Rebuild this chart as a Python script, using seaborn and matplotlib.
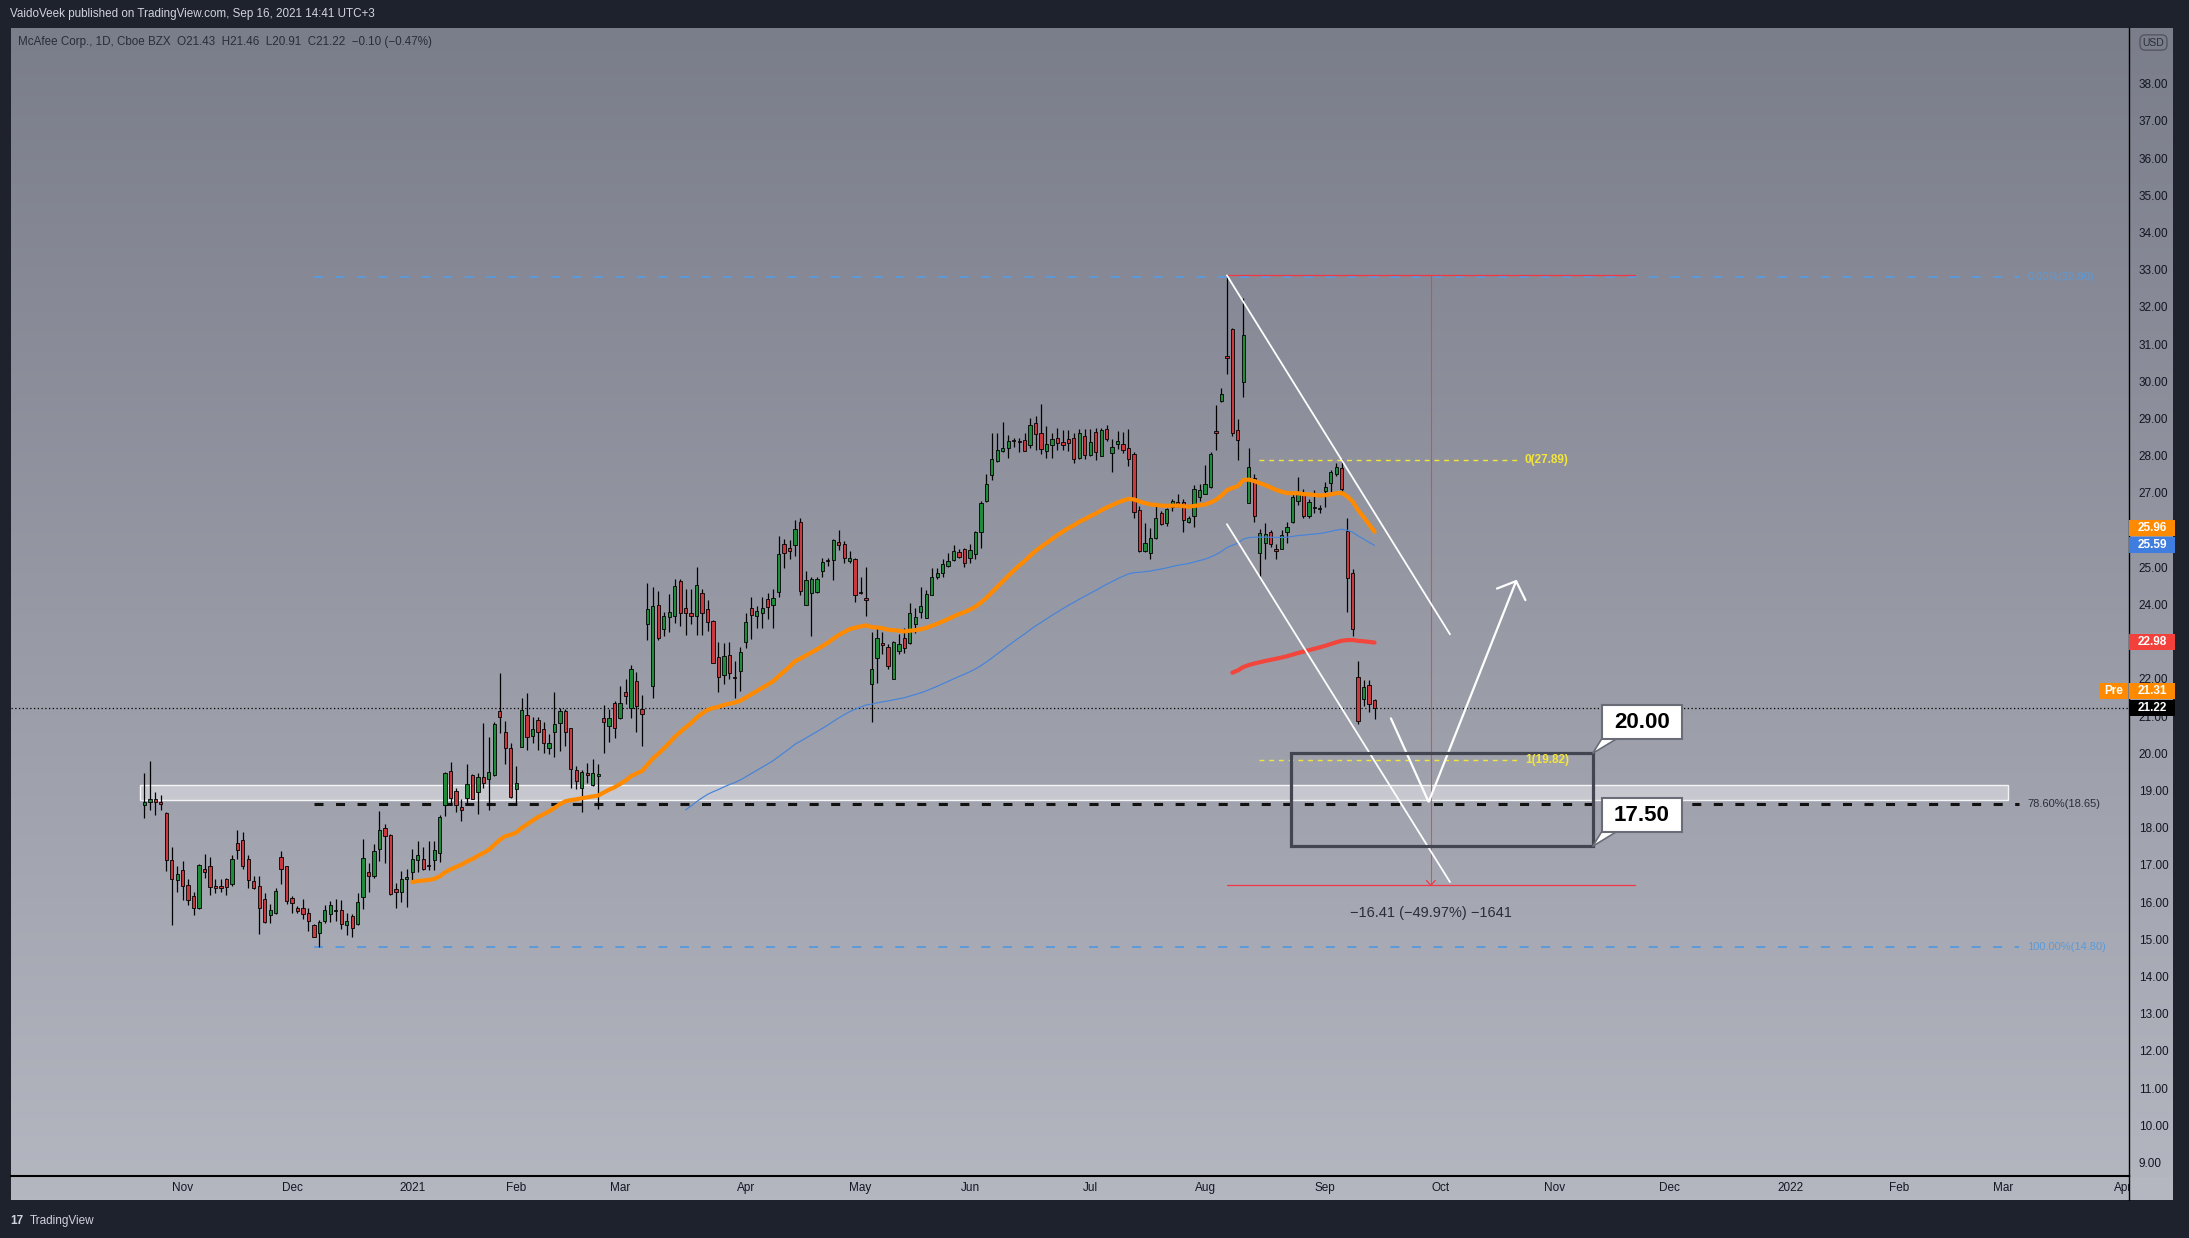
import numpy as np
import pandas as pd
import matplotlib
matplotlib.use("Agg")
import matplotlib.pyplot as plt
import seaborn as sns
from matplotlib.patches import Rectangle, Polygon
from matplotlib.transforms import blended_transform_factory

# daily candles, McAfee (MCFE), 2020-10-22 .. 2021-09-16
opens = [18.60, 18.68, 18.78, 18.67, 18.39, 17.14, 16.60, 16.86, 16.45, 16.16,
         15.83, 16.88, 16.98, 16.43, 16.40, 16.62, 16.50, 17.60, 17.66, 17.15,
         16.58, 16.43, 16.08, 15.66, 15.72, 17.20, 16.97, 16.10, 15.83, 15.83,
         15.72, 15.38, 15.16, 15.50, 15.67, 15.77, 15.80, 15.39, 15.63, 15.41,
         16.15, 16.82, 16.70, 17.44, 17.98, 17.81, 16.34, 16.26, 16.61, 16.82,
         17.14, 17.17, 16.98, 17.14, 17.33, 18.62, 19.53, 19.00, 18.56, 18.81,
         19.41, 18.95, 19.37, 19.30, 19.42, 21.13, 20.56, 20.14, 19.03, 20.16,
         21.03, 20.47, 20.89, 20.65, 20.13, 20.58, 20.81, 21.13, 20.69, 19.55,
         19.07, 19.46, 19.16, 19.40, 20.94, 20.74, 21.34, 20.96, 21.66, 21.23,
         21.95, 21.19, 23.49, 21.80, 24.00, 23.34, 23.67, 23.70, 24.64, 23.92,
         23.76, 23.68, 24.32, 23.88, 23.56, 22.58, 22.10, 22.65, 22.03, 22.22,
         23.00, 23.91, 23.70, 23.76, 24.16, 23.99, 24.34, 25.62, 25.53, 25.60,
         26.23, 24.00, 24.32, 24.35, 24.89, 25.20, 25.19, 25.67, 25.64, 25.16,
         25.22, 24.34, 24.17, 21.87, 22.56, 22.96, 22.85, 22.01, 22.75, 23.09,
         22.96, 23.49, 23.79, 23.65, 24.26, 24.73, 24.84, 25.04, 25.20, 25.40,
         25.49, 25.24, 25.35, 25.94, 26.78, 27.47, 27.86, 28.13, 28.20, 28.40,
         28.39, 28.43, 28.29, 28.89, 28.60, 28.13, 28.29, 28.49, 28.38, 28.46,
         28.49, 27.94, 28.53, 28.02, 28.63, 27.99, 28.71, 28.08, 28.31, 28.32,
         28.20, 28.06, 26.53, 25.44, 25.38, 25.78, 26.45, 26.20, 26.63, 26.76,
         26.77, 26.22, 26.38, 26.89, 26.98, 27.17, 28.67, 29.47, 30.68, 31.42,
         28.69, 29.99, 26.74, 27.39, 25.39, 25.66, 25.96, 25.50, 25.50, 25.95,
         26.22, 26.78, 26.98, 26.38, 26.59, 26.56, 27.04, 27.28, 27.50, 27.68,
         25.98, 24.84, 22.06, 21.47, 21.83, 21.43]
highs = [19.48, 19.79, 18.97, 18.89, 18.43, 17.49, 16.97, 17.10, 16.62, 16.26,
         17.02, 17.29, 17.21, 16.63, 16.63, 16.66, 17.26, 17.95, 17.89, 17.26,
         16.71, 16.69, 16.24, 15.96, 16.39, 17.38, 16.97, 16.17, 15.90, 16.08,
         15.83, 15.40, 15.52, 15.92, 16.03, 16.08, 16.06, 15.70, 15.67, 16.24,
         17.69, 17.06, 17.57, 18.45, 18.09, 17.83, 16.51, 16.84, 16.88, 17.43,
         17.63, 17.48, 17.65, 17.63, 18.35, 19.50, 19.78, 19.08, 18.78, 19.72,
         19.44, 19.48, 20.81, 20.45, 20.83, 22.15, 20.88, 20.29, 19.65, 21.50,
         21.63, 20.98, 20.98, 20.84, 20.51, 21.64, 21.23, 21.20, 20.69, 19.66,
         19.55, 19.75, 19.84, 19.70, 21.29, 21.18, 21.41, 21.81, 21.99, 22.37,
         22.19, 21.56, 24.59, 24.46, 24.37, 23.79, 24.28, 24.70, 24.68, 24.41,
         24.41, 25.00, 24.41, 24.13, 23.58, 22.98, 22.96, 22.98, 22.47, 22.85,
         23.76, 24.19, 23.96, 24.19, 24.30, 24.41, 25.85, 25.76, 25.74, 26.27,
         26.32, 24.90, 24.73, 24.73, 25.26, 25.26, 25.76, 26.00, 25.71, 25.44,
         25.24, 24.75, 25.02, 23.25, 23.38, 23.25, 22.95, 23.02, 23.20, 23.36,
         24.03, 23.92, 24.48, 24.40, 24.97, 24.97, 25.22, 25.38, 25.60, 25.49,
         25.51, 25.62, 25.98, 26.79, 27.52, 28.62, 28.62, 28.92, 28.55, 28.47,
         28.48, 28.62, 29.02, 29.07, 29.38, 28.80, 28.60, 28.75, 28.70, 28.68,
         28.60, 28.71, 28.71, 28.71, 28.75, 28.75, 28.83, 28.44, 28.66, 28.64,
         28.71, 28.10, 26.65, 26.20, 26.07, 26.65, 26.52, 26.60, 26.85, 26.98,
         26.83, 26.38, 27.21, 27.23, 27.75, 28.11, 29.36, 29.81, 32.86, 31.44,
         29.00, 32.23, 28.22, 27.50, 26.04, 26.18, 26.00, 25.62, 26.00, 26.23,
         27.01, 27.44, 27.11, 26.83, 27.07, 26.67, 27.30, 27.62, 27.80, 27.90,
         26.34, 24.95, 22.48, 21.96, 21.96, 21.46]
lows = [18.26, 18.48, 18.34, 18.48, 16.84, 15.39, 16.26, 16.05, 15.93, 15.66,
        15.81, 16.64, 16.20, 16.25, 16.28, 16.19, 16.42, 17.15, 16.88, 16.39,
        16.34, 15.13, 15.45, 15.44, 15.67, 16.50, 15.96, 15.72, 15.70, 15.54,
        15.22, 15.07, 14.78, 15.45, 15.47, 15.50, 15.27, 15.11, 15.07, 15.38,
        15.81, 16.26, 16.64, 17.11, 17.05, 16.19, 15.83, 16.00, 15.87, 16.57,
        16.82, 16.86, 16.86, 16.87, 17.08, 18.32, 18.60, 18.42, 18.18, 18.60,
        18.76, 18.37, 19.07, 18.48, 19.39, 20.54, 19.71, 18.81, 18.60, 20.16,
        20.08, 20.29, 20.08, 20.02, 19.99, 19.91, 20.06, 20.20, 19.06, 19.04,
        18.41, 19.21, 19.12, 18.50, 20.02, 20.31, 20.42, 20.92, 21.32, 20.95,
        20.56, 20.20, 23.04, 21.50, 23.04, 23.16, 23.27, 23.50, 23.43, 23.19,
        23.47, 23.18, 23.19, 23.29, 22.42, 21.64, 21.87, 22.01, 21.50, 21.68,
        22.82, 23.07, 23.38, 23.38, 23.61, 23.38, 24.19, 24.97, 25.22, 25.31,
        24.25, 24.00, 23.16, 24.30, 24.73, 25.03, 24.66, 25.47, 25.13, 25.11,
        24.07, 24.28, 23.70, 20.85, 21.90, 22.67, 22.26, 22.00, 22.67, 22.71,
        22.93, 23.23, 23.65, 23.63, 24.25, 24.68, 24.74, 25.02, 25.17, 25.25,
        25.02, 25.13, 25.22, 25.53, 26.77, 27.35, 27.84, 28.10, 27.93, 28.24,
        28.11, 28.13, 28.22, 28.15, 28.06, 27.93, 27.95, 28.15, 28.15, 28.13,
        27.80, 27.90, 27.90, 27.98, 27.88, 27.98, 28.40, 27.56, 28.17, 28.08,
        27.72, 26.34, 25.42, 25.42, 25.22, 25.75, 26.14, 26.11, 26.52, 26.63,
        25.95, 26.20, 26.09, 26.78, 26.96, 27.14, 28.15, 29.45, 30.19, 28.53,
        27.89, 29.58, 26.72, 26.23, 24.75, 25.22, 25.56, 25.22, 25.48, 25.66,
        26.20, 26.67, 26.34, 26.32, 26.45, 26.45, 26.63, 26.96, 27.46, 26.96,
        23.81, 23.15, 20.78, 21.27, 21.12, 20.91]
closes = [18.70, 18.78, 18.70, 18.65, 17.14, 16.63, 16.75, 16.44, 16.06, 15.85,
          17.00, 16.80, 16.40, 16.39, 16.39, 16.40, 17.15, 17.41, 16.98, 16.59,
          16.39, 15.83, 15.47, 15.80, 16.30, 16.88, 16.03, 15.97, 15.76, 15.67,
          15.49, 15.07, 15.47, 15.79, 15.93, 15.80, 15.40, 15.48, 15.31, 15.99,
          17.18, 16.71, 17.37, 17.95, 17.77, 16.21, 16.28, 16.61, 16.68, 17.16,
          17.27, 16.88, 16.97, 17.39, 18.29, 19.48, 18.80, 18.62, 18.48, 19.18,
          18.78, 19.36, 19.20, 19.50, 20.78, 20.99, 20.13, 18.83, 19.21, 21.16,
          20.45, 20.65, 20.56, 20.27, 20.29, 20.80, 21.13, 20.56, 19.58, 19.26,
          19.51, 19.42, 19.46, 19.44, 20.83, 20.96, 20.69, 21.34, 21.53, 22.28,
          21.26, 21.07, 23.88, 23.97, 23.09, 23.68, 23.80, 24.50, 23.76, 23.76,
          23.70, 24.53, 23.76, 23.54, 22.44, 22.04, 22.62, 22.15, 22.02, 22.73,
          23.53, 23.71, 23.83, 23.92, 23.94, 24.17, 25.37, 25.38, 25.44, 26.04,
          24.37, 24.66, 24.70, 24.70, 25.15, 25.16, 25.73, 25.61, 25.24, 25.26,
          24.26, 24.32, 24.11, 22.26, 23.09, 22.91, 22.35, 23.00, 22.93, 22.82,
          23.76, 23.67, 23.95, 24.28, 24.75, 24.84, 25.10, 25.16, 25.43, 25.29,
          25.13, 25.46, 25.95, 26.74, 27.25, 27.92, 28.15, 28.22, 28.40, 28.39,
          28.38, 28.13, 28.83, 28.59, 28.17, 28.31, 28.44, 28.35, 28.29, 28.35,
          27.92, 28.60, 28.01, 28.37, 28.11, 28.68, 28.46, 28.24, 28.40, 28.15,
          27.92, 26.49, 25.44, 25.66, 25.80, 26.34, 26.16, 26.56, 26.78, 26.69,
          26.26, 26.32, 27.11, 27.07, 27.25, 28.04, 28.62, 29.67, 30.63, 28.62,
          28.43, 31.25, 27.71, 26.38, 25.91, 25.89, 25.62, 25.44, 25.88, 26.08,
          26.90, 26.98, 26.38, 26.77, 26.60, 26.57, 27.16, 27.55, 27.71, 27.10,
          24.72, 23.33, 20.87, 21.79, 21.32, 21.22]

first_day = "2020-10-22"
market_holidays = ["2020-11-26", "2020-12-25", "2021-01-01", "2021-01-18",
                   "2021-02-15", "2021-04-02", "2021-05-31", "2021-07-05",
                   "2021-09-06", "2021-11-25", "2021-12-24", "2022-01-17",
                   "2022-02-21"]

# fib retracement (14.80 -> 32.80) and its levels
fib_levels = [32.80, 18.65, 14.80]
fib_labels = ["0.00%(32.80)", "78.60%(18.65)", "100.00%(14.80)"]
# small fib on the last leg
fib2_levels = [27.89, 19.82]
fib2_labels = ["0(27.89)", "1(19.82)"]
# price range measure
measure_top, measure_bottom = 32.86, 16.45
measure_text = "\u221216.41 (\u221249.97%) \u22121641"
# target zone
zone_top, zone_bottom = 20.00, 17.50
zone_labels = ["20.00", "17.50"]
support_band = (18.75, 19.14)

price_ticks = [v for v in range(9, 39) if v not in (23, 26)]

header = "VaidoVeek published on TradingView.com, Sep 16, 2021 14:41 UTC+3"
legend_text = "McAfee Corp., 1D, Cboe BZX  O21.43  H21.46  L20.91  C21.22  \u22120.10 (\u22120.47%)"

GREEN = "#1f8b3b"
RED = "#c9393e"
ORANGE = "#ff8a00"
BLUE = "#4a84d8"
EMA_RED = "#f2453b"
FIB_BLUE = "#5b9ad8"
YELLOW = "#f3e53a"


def ema(values, n):
    out = [np.nan] * len(values)
    out[n - 1] = float(np.mean(values[:n]))
    alpha = 2 / (n + 1)
    for k in range(n, len(values)):
        out[k] = alpha * values[k] + (1 - alpha) * out[k - 1]
    return np.array(out)


W, H = 2189, 1238


def fx(px):
    return px / W


def fy(py):
    return 1 - py / H


sns.set_theme(style="white")
plt.rcParams["font.family"] = ["Liberation Sans", "DejaVu Sans"]

fig = plt.figure(figsize=(W / 100, H / 100), dpi=100, facecolor="#1e222d")

# gradient background of the chart pane (incl. axis strips)
bg = fig.add_axes([fx(11), fy(1200), fx(2173) - fx(11), fy(28) - fy(1200)])
t = np.linspace(0, 1, 256)[:, None, None]
top_c = np.array([122, 125, 138]) / 255
bot_c = np.array([180, 183, 192]) / 255
bg.imshow(top_c + (bot_c - top_c) * t, aspect="auto", extent=[0, 1, 0, 1])
bg.set_axis_off()

ax = fig.add_axes([fx(11), fy(1175.5), fx(2129) - fx(11), fy(28) - fy(1175.5)])
ax.set_zorder(1)
ax.patch.set_alpha(0)
ax.set_xlim(-24.4, 363.0)
ax.set_ylim(8.65, 39.5)

# trading-day calendar -> bar index
days = pd.bdate_range(first_day, "2022-04-29")
days = days[~days.isin(pd.to_datetime(market_holidays))]
idx = np.arange(len(closes))

# candles
o = np.array(opens)
c = np.array(closes)
up = c >= o
body_lo = np.minimum(o, c)
body_h = np.maximum(np.abs(c - o), 0.03)
ax.vlines(idx, lows, highs, colors="black", linewidth=0.9, zorder=2)
ax.bar(idx, body_h, bottom=body_lo, width=0.6,
       color=[GREEN if u else RED for u in up],
       edgecolor="black", linewidth=0.6, zorder=3)

# moving averages
for n, col, lw in [(200, EMA_RED, 3.0), (100, BLUE, 0.9), (50, ORANGE, 3.0)]:
    m = ema(closes, n)
    ok = ~np.isnan(m)
    sns.lineplot(x=idx[ok], y=m[ok], ax=ax, color=col, linewidth=lw,
                 zorder=4, legend=False)

# last price dotted line
ax.axhline(closes[-1], color="black", linewidth=0.9, linestyle=(0, (1, 2)), zorder=1.5)

# support band
ax.add_patch(Rectangle((-0.8, support_band[0]), 341.6, support_band[1] - support_band[0],
                       facecolor="white", alpha=0.42, edgecolor="none", zorder=1))
ax.add_patch(Rectangle((-0.8, support_band[0]), 341.6, support_band[1] - support_band[0],
                       facecolor="none", edgecolor="#f4f4f6", linewidth=1.0, zorder=1))

# fib levels
fib_styles = [(FIB_BLUE, 1.4), ("#111111", 2.2), (FIB_BLUE, 1.4)]
for lvl, lab, (col, lw) in zip(fib_levels, fib_labels, fib_styles):
    ax.plot([31, 342.8], [lvl, lvl], color=col, linewidth=lw,
            dashes=(6.5 / lw, 9.0 / lw), zorder=1.2)
    ax.text(344.4, lvl, lab, color=col if col != "#111111" else "#2a2e39",
            fontsize=8, va="center", ha="left", zorder=6)

for lvl, lab in zip(fib2_levels, fib2_labels):
    ax.plot([203.8, 251.5], [lvl, lvl], color=YELLOW, linewidth=1.0,
            dashes=(3.5, 3.5), zorder=4.5)
    ax.text(252.5, lvl, lab, color=YELLOW, fontsize=8.5, fontweight="bold",
            va="center", ha="left", zorder=6)

# price range measure
ax.plot([198, 272.7], [measure_top, measure_top], color="#f23645", linewidth=0.9, zorder=1.3)
ax.plot([198, 272.7], [measure_bottom, measure_bottom], color="#f23645", linewidth=0.9, zorder=4)
ax.plot([235.3, 235.3], [measure_top, measure_bottom], color="#f23645", linewidth=0.8,
        alpha=0.8, zorder=4)
ax.plot([234.5, 235.3, 236.1], [measure_bottom + 0.13, measure_bottom, measure_bottom + 0.13],
        color="#f23645", linewidth=0.9, zorder=4)
ax.text(235.3, 15.72, measure_text, color="#2a2e39", fontsize=10.5,
        ha="center", va="center", zorder=6)

# channel
ax.plot([198, 238.8], [32.85, 23.2], color="white", linewidth=1.3, zorder=5)
ax.plot([198, 238.8], [26.16, 16.54], color="white", linewidth=1.3, zorder=5)

# projected path
ax.plot([228, 234.9, 250.9], [20.94, 18.69, 24.63], color="white", linewidth=1.6,
        zorder=5, solid_joinstyle="miter")
ax.plot([247.4, 250.9, 252.6], [24.43, 24.63, 24.12], color="white", linewidth=1.6,
        zorder=5)

# target zone
ax.add_patch(Rectangle((209.8, zone_bottom), 55.1, zone_top - zone_bottom,
                       facecolor="none", edgecolor="#434651", linewidth=2.3, zorder=5))

for lvl, lab, cy in zip([zone_top, zone_bottom], zone_labels, [20.835, 18.34]):
    half = 0.455
    ax.add_patch(Polygon([(266.6, cy - half + 0.02), (269.4, cy - half + 0.02), (264.9, lvl)],
                         closed=True, facecolor="white", edgecolor="#6a6d78",
                         linewidth=1.2, zorder=6))
    ax.add_patch(Rectangle((266.6, cy - half), 14.6, 2 * half, facecolor="white",
                           edgecolor="#6a6d78", linewidth=1.5, zorder=6.5))
    ax.text(273.9, cy, lab, fontsize=16, fontweight="bold", color="black",
            ha="center", va="center", zorder=7)

# axes styling
for side in ["top", "left"]:
    ax.spines[side].set_visible(False)
ax.spines["right"].set_color("black")
ax.spines["right"].set_linewidth(1.0)
ax.spines["bottom"].set_color("black")
ax.spines["bottom"].set_linewidth(1.5)

ax.yaxis.tick_right()
ax.set_yticks(price_ticks)
ax.set_yticklabels([f"{v:.2f}" for v in price_ticks])
ax.tick_params(axis="y", length=0, pad=7, labelsize=8.5, labelcolor="#131722")

pos = pd.Series(np.arange(len(days)), index=days)
firsts = pos.groupby([days.year, days.month]).first()
xt, xl = [], []
for (yr, mo), i in firsts.items():
    if i == 0:
        continue
    lab = str(yr) if mo == 1 else pd.Timestamp(yr, mo, 1).strftime("%b")
    if i < 360:
        xt.append(i)
        xl.append(lab)
    elif i < 366:
        # last month label sits under the price scale edge and gets cut there
        ax.text(min(i, 362), -0.0057, lab,
                transform=blended_transform_factory(ax.transData, ax.transAxes),
                fontsize=8.5, color="#131722", ha="center", va="top", clip_on=False)
ax.set_xticks(xt)
ax.set_xticklabels(xl)
ax.tick_params(axis="x", length=0, pad=4.5, labelsize=8.5, labelcolor="#131722")
ax.grid(False)

# price axis badges
tr = blended_transform_factory(fig.transFigure, ax.transData)
bh = 16 / 37.2
for y, txt, col in [(26.06, "25.96", ORANGE), (25.59, "25.59", "#3f7ede"),
                    (22.98, "22.98", "#f2413a"), (21.67, "21.31", ORANGE),
                    (21.22, "21.22", "black")]:
    fig.add_artist(Rectangle((fx(2129), y - bh / 2), fx(2175) - fx(2129), bh,
                             transform=tr, facecolor=col, edgecolor="none", zorder=10))
    fig.text(fx(2152), y, txt, transform=tr, color="white", fontsize=8.5,
             fontweight="bold", ha="center", va="center", zorder=11)
fig.add_artist(Rectangle((fx(2099), 21.67 - bh / 2), fx(2128) - fx(2099), bh,
                         transform=tr, facecolor=ORANGE, edgecolor="none", zorder=10))
fig.text(fx(2113.5), 21.67, "Pre", transform=tr, color="white", fontsize=8.5,
         fontweight="bold", ha="center", va="center", zorder=11)

# cover the clipped month tick under the price scale and redraw the separator
fig.add_artist(Rectangle((fx(2129.5), fy(1200)), fx(2173) - fx(2129.5), fy(1176.5) - fy(1200),
                         facecolor="#b4b7c0", edgecolor="none", zorder=10))
fig.add_artist(plt.Line2D([fx(2129), fx(2129)], [fy(1200), fy(1175)], color="black",
                          linewidth=1.0, zorder=11))

# USD box
fig.text(fx(2153.5), fy(42.5), "USD", fontsize=7.5, color="#2a2e39", ha="center", va="center",
         zorder=11, bbox=dict(boxstyle="round,pad=0.25,rounding_size=0.5",
                              facecolor="none", edgecolor="#50535e", linewidth=0.9))

fig.text(fx(10), fy(14), header, fontsize=8.4, color="#d1d4dc", ha="left", va="center")
fig.text(fx(18), fy(42), legend_text, fontsize=8.4, color="#2a2e39", ha="left", va="center")
fig.text(fx(10), fy(1221), "17", fontsize=8.5, fontweight="bold", color="#d1d4dc",
         ha="left", va="center")
fig.text(fx(30), fy(1221), "TradingView", fontsize=8.5, color="#d1d4dc", ha="left", va="center")

fig.savefig("out.png", dpi=100, facecolor=fig.get_facecolor())
